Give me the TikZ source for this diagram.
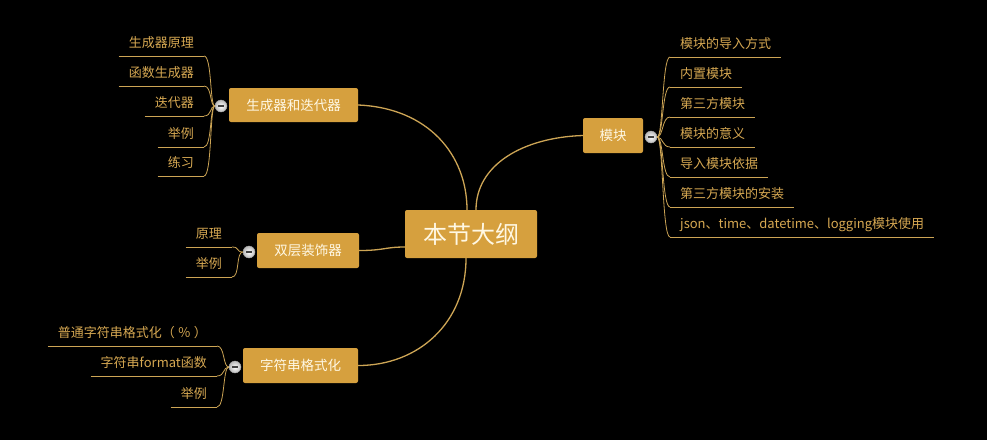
\documentclass[tikz,border=0pt]{standalone}
\usepackage{fontspec}
\setmainfont{Noto Sans CJK SC}
\definecolor{boxc}{RGB}{214,160,62}
\definecolor{linec}{RGB}{205,165,85}
\definecolor{txtc}{RGB}{214,168,82}
\definecolor{boxtxt}{RGB}{255,248,228}
\tikzset{
  mainbox/.style={fill=boxc, rounded corners=2pt, text=boxtxt, font=\fontsize{13.5}{16}\selectfont, inner sep=0pt, minimum height=35pt},
  leaf/.style={text=txtc, font=\fontsize{13}{15}\selectfont, inner xsep=10pt, inner ysep=5pt, text height=9pt, text depth=3pt},
  ul/.style={draw=linec, line width=0.8pt},
  conn/.style={draw=linec, line width=1.3pt},
  toggle/.style={circle, minimum size=12pt, inner sep=0pt, inner color=white, outer color=gray!55, draw=gray!70, line width=0.4pt,
    path picture={\draw[line width=1.6pt, black!75] ([xshift=-3pt]path picture bounding box.center) -- ([xshift=3pt]path picture bounding box.center);}}
}
\begin{document}
\begin{tikzpicture}[x=1pt,y=-1pt]
\fill[black] (0,0) rectangle (987,440);
\useasboundingbox (0,0) rectangle (987,440);

% main boxes
\node[mainbox, minimum width=129pt, minimum height=34pt] (gen) at (293.5,105) {生成器和迭代器};
\node[mainbox, minimum width=102pt] (dec) at (308,250.5) {双层装饰器};
\node[mainbox, minimum width=115pt] (fmt) at (300.5,365.5) {字符串格式化};
\node[mainbox, minimum width=60pt] (mod) at (613,135.5) {模块};
\node[mainbox, minimum width=132pt, minimum height=48pt, font=\fontsize{24}{28}\selectfont] (root) at (471,234) {本节大纲};

% main connectors
\draw[conn] (gen.east) .. controls +(70,3) and +(0,-55) .. ([xshift=-4pt]root.north);
\draw[conn] (mod.west) .. controls +(-60,2) and +(0,-45) .. ([xshift=5pt]root.north);
\draw[conn] (dec.east) .. controls +(25,0) and +(-20,0) .. ([yshift=-13pt]root.west);
\draw[conn] ([xshift=-5pt]root.south) .. controls +(0,65) and +(60,0) .. (fmt.east);

% toggles
\node[toggle] (tg1) at (221,106) {};
\node[toggle] (tg2) at (249,252) {};
\node[toggle] (tg3) at (235,367) {};
\node[toggle] (tg4) at (651,137) {};

% generator leaves
\node[leaf, anchor=south east] (g1) at (204,56) {生成器原理};
\node[leaf, anchor=south east] (g2) at (204,86) {函数生成器};
\node[leaf, anchor=south east] (g3) at (204,116) {迭代器};
\node[leaf, anchor=south east] (g4) at (204,147) {举例};
\node[leaf, anchor=south east] (g5) at (204,176) {练习};
\foreach \n in {g1,g2,g3,g4,g5}{
  \draw[ul] (\n.south west) -- (\n.south east);
  \draw[ul] (tg1.west) .. controls +(-5,0) and +(8,0) .. (\n.south east);
}

% decorator leaves
\node[leaf, anchor=south east] (d1) at (232,247) {原理};
\node[leaf, anchor=south east] (d2) at (232,277) {举例};
\foreach \n in {d1,d2}{
  \draw[ul] (\n.south west) -- (\n.south east);
  \draw[ul] (tg2.west) .. controls +(-7,0) and +(8,0) .. (\n.south east);
}

% format leaves
\node[leaf, anchor=south east] (f1) at (217,346) {普通字符串格式化（ ％ ）};
\node[leaf, anchor=south east] (f2) at (217,376) {字符串format函数};
\node[leaf, anchor=south east] (f3) at (217,407) {举例};
\foreach \n in {f1,f2,f3}{
  \draw[ul] (\n.south west) -- (\n.south east);
  \draw[ul] (tg3.west) .. controls +(-6,0) and +(8,0) .. (\n.south east);
}

% module leaves
\node[leaf, anchor=south west] (m1) at (670,57) {模块的导入方式};
\node[leaf, anchor=south west] (m2) at (670,87) {内置模块};
\node[leaf, anchor=south west] (m3) at (670,117) {第三方模块};
\node[leaf, anchor=south west] (m4) at (670,147) {模块的意义};
\node[leaf, anchor=south west] (m5) at (670,177) {导入模块依据};
\node[leaf, anchor=south west] (m6) at (670,207) {第三方模块的安装};
\node[leaf, anchor=south west] (m7) at (670,237) {json、time、datetime、logging模块使用};
\foreach \n in {m1,m2,m3,m4,m5,m6,m7}{
  \draw[ul] (\n.south west) -- (\n.south east);
  \draw[ul] (tg4.east) .. controls +(6,0) and +(-8,0) .. (\n.south west);
}
\end{tikzpicture}
\end{document}
